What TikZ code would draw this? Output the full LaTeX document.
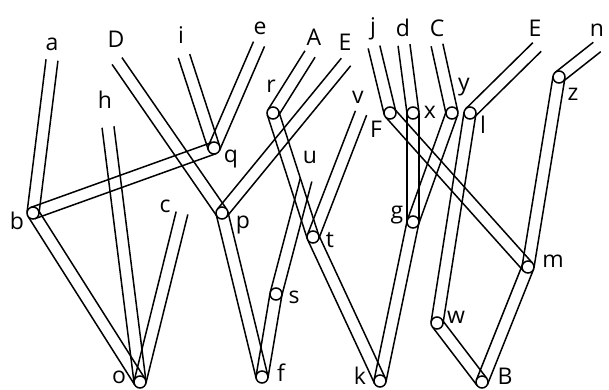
\documentclass[tikz,border=0pt]{standalone}
\usepackage{fontspec}
\setmainfont{Open Sans}
\usetikzlibrary{calc}
\tikzset{tube line/.style={line width=1.5pt, black}}
\tikzset{vtx/.style={circle, draw, fill=white, line width=1.5pt, minimum size=12pt, inner sep=0pt, outer sep=0pt}}
\tikzset{lbl/.style={inner sep=0pt, font=\fontsize{23}{26}\selectfont}}
% a tube between two points: two parallel lines, open inside
\newcommand\tube[2]{%
  \draw[tube line] ($(#1)!6pt!90:(#2)$) -- ($(#2)!6pt!-90:(#1)$);
  \draw[tube line] ($(#1)!6pt!-90:(#2)$) -- ($(#2)!6pt!90:(#1)$);}
\begin{document}
\begin{tikzpicture}[x=1pt, y=-1pt]
  \useasboundingbox (0,0) rectangle (609,389);
  % joints
  \foreach \n/\x/\y in {b/33/213, q/214/148, p/222/213, o/140/382, r/273/113,
      t/313/237, s/276/294, f/262/377, k/380/381, g/413/222, x/413/113,
      F/390/113, y/452/113, l/470/113, z/559/77, m/528/267, w/437/323, B/482/382}
    \coordinate (\n) at (\x,\y);
  % open ends
  \foreach \n/\x/\y in {a/52/60, D/117/61, i/184/56, e/259/44, A/310/54,
      E/346/62, v/361/113, u/306/180, j/374/47, d/404/45, C/437/45,
      E2/537/47, n/597/47, h/108/127, c/182/213}
    \coordinate (end-\n) at (\x,\y);
  % tubes
  \foreach \s/\t in {end-a/b, end-D/p, end-i/q, end-e/q, b/q, end-h/o, b/o,
      end-c/o, end-A/r, end-E/p, r/t, end-v/t, end-u/s, s/f, p/f, t/k, g/k,
      x/g, end-d/x, y/g, end-C/y, end-j/F, F/m, end-E2/l, l/w, z/m, end-n/z,
      m/B, w/B}
    \tube{\s}{\t};
  % circles on top
  \foreach \n in {b,q,p,o,r,t,s,f,k,g,x,F,y,l,z,m,w,B}
    \node[vtx] (\n-c) at (\n) {};
  % labels
  \foreach \n/\x/\y/\txt in {la/52/44/a, lD/116/39/D, li/181/35/i, le/260/28/e,
      lA/314/37/A, lE/345/42/E, lj/373/29/j, ld/403/28/d, lC/437/28/C,
      lE2/535/28/E, ln/597/30/n, lh/105/100/h, lc/165/206/c, lv/358/97/v,
      lu/310/157/u, lb/17/221/b, lq/231/159/q, lp/243/225/p, lr/271/86/r,
      lt/330/240/t, ls/294/297/s, lf/281/373/f, lo/119/377/o, lk/360/376/k,
      lg/397/215/g, lx/430/112/x, lF/376/129/F, ly/464/87/y, ll/483/125/l,
      lz/573/94/z, lm/553/261/m, lw/456/317/w, lB/505/376/B}
    \node[lbl] (\n) at (\x,\y) {\txt};
\end{tikzpicture}
\end{document}
